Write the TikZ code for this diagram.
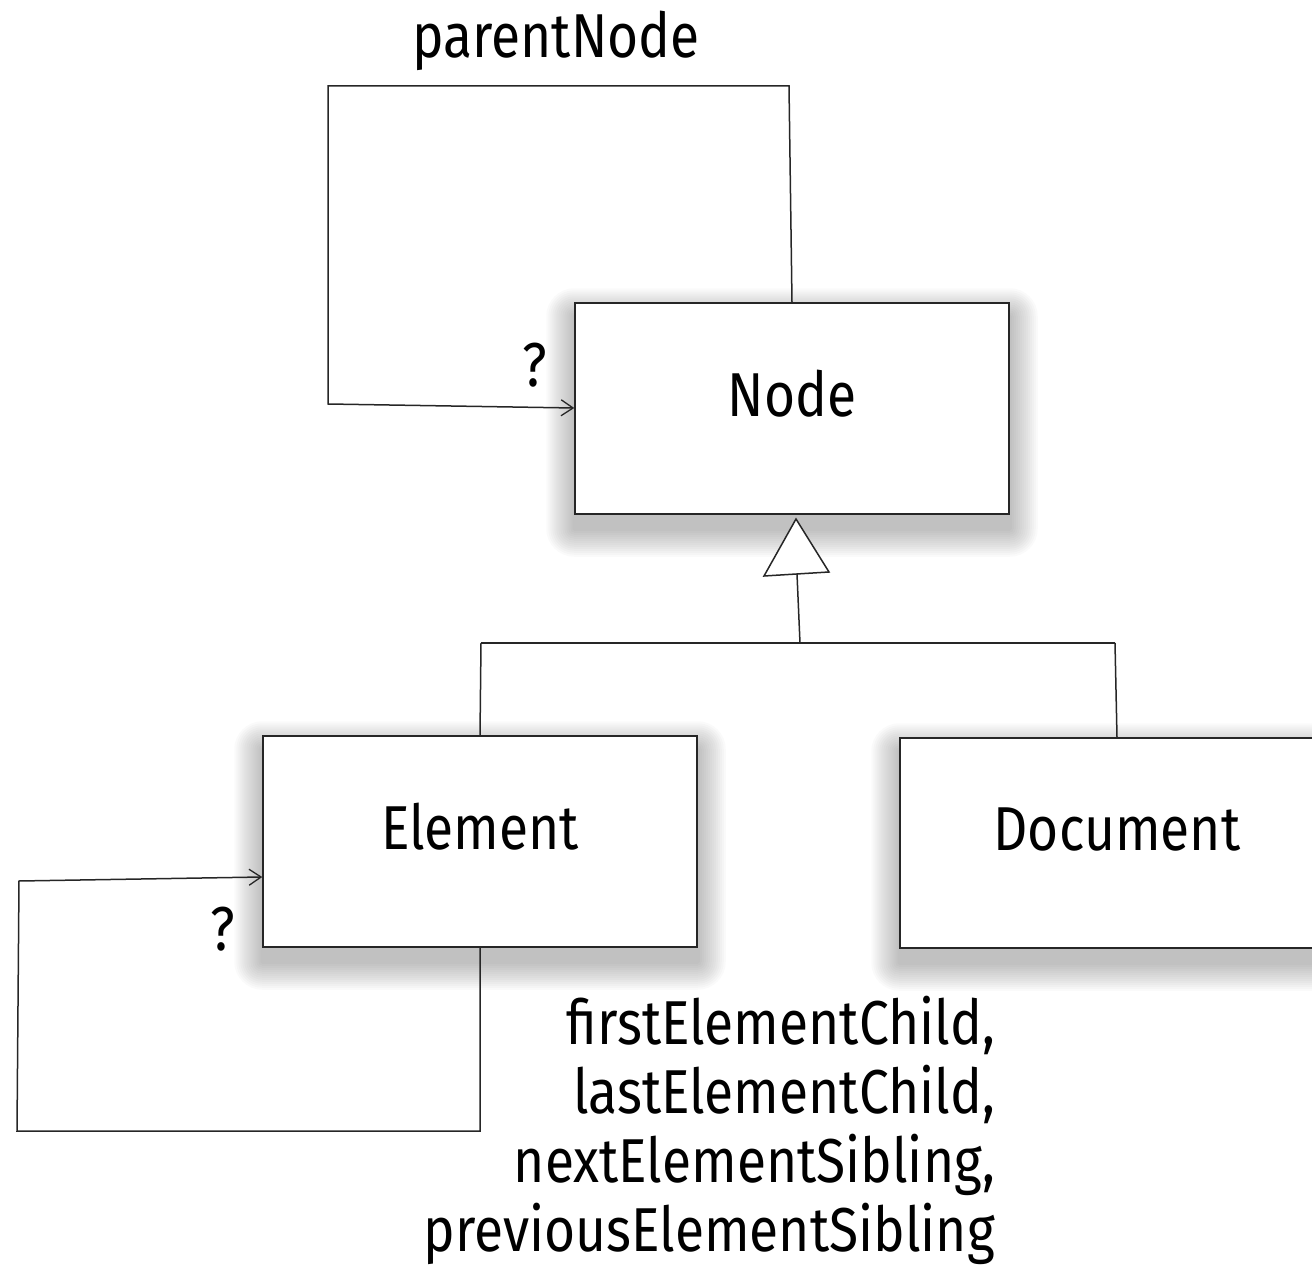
\documentclass[tikz,border=0pt]{standalone}
\usepackage{fontspec}
\setmainfont{Fira Sans}[FakeStretch=0.86]
\usetikzlibrary{arrows.meta,calc,backgrounds}
\tikzset{
  umlbox/.style={draw=black!85, line width=1.5pt, fill=white, inner sep=0pt,
    minimum width=434pt, font=\fontsize{62}{67}\selectfont,
    text height=45pt, text depth=30pt},
  conn/.style={draw=black!85, line width=1.5pt},
  barb/.style={-{Straight Barb[length=12pt,width=16pt,line width=1.3pt]}},
  lbl/.style={font=\fontsize{62}{69}\selectfont, inner sep=0pt},
}
\newcommand{\softshadow}[1]{%
  \foreach \r in {2,4,...,28}{%
    \fill[black, opacity=0.021, rounded corners=\r pt]
      ($(#1.south west)+(-\r,14+\r)$) rectangle ($(#1.north east)+(\r,14-\r)$);
  }}
\begin{document}
\begin{tikzpicture}[x=1pt,y=-1pt]
\useasboundingbox (0,0) rectangle (1312,1268);
\clip (0,0) rectangle (1312,1268);

\node[umlbox, minimum height=211pt] (node) at (792,408.5) {Node};
\node[umlbox, minimum height=211pt] (element) at (480,841.5) {Element};
\node[umlbox, minimum height=210pt] (document) at (1117,843) {Document};

\begin{scope}[on background layer]
  \softshadow{node}
  \softshadow{element}
  \softshadow{document}
\end{scope}

% parentNode self association
\coordinate (p1) at (789,86);
\coordinate (p2) at (328,86);
\coordinate (p3) at (328,404);
\draw[conn, barb] (node.north) -- (p1) -- (p2) -- (p3) -- (node.west |- 0,408);
\node[lbl, anchor=base] (lparent) at (556,58) {parentNode};
\node[lbl, anchor=base] (q1) at (535,386) {?};

% generalization
\coordinate (tip) at (796,519);
\coordinate (bl) at (764,576);
\coordinate (br) at (829,572);
\coordinate (tb) at (797,574);
\coordinate (hj) at (800,643);
\coordinate (hl) at (481,643);
\coordinate (hr) at (1115,643);
\draw[conn] (tb) -- (hj);
\draw[conn] (hl) -- (hr);
\draw[conn] (hl) -- (element.north);
\draw[conn] (hr) -- (document.north);
\draw[conn, fill=white, line join=miter] (tip) -- (bl) -- (br) -- cycle;

% element self association
\coordinate (e1) at (480,1131);
\coordinate (e2) at (17,1131);
\coordinate (e3) at (19,881);
\draw[conn, barb] (element.south) -- (e1) -- (e2) -- (e3) -- (element.west |- 0,877);
\node[lbl, anchor=base] (q2) at (223,950) {?};

\node[lbl, anchor=north east, align=right] (names) at (995,996)
  {firstElementChild,\\lastElementChild,\\nextElementSibling,\\previousElementSibling};
\end{tikzpicture}
\end{document}
